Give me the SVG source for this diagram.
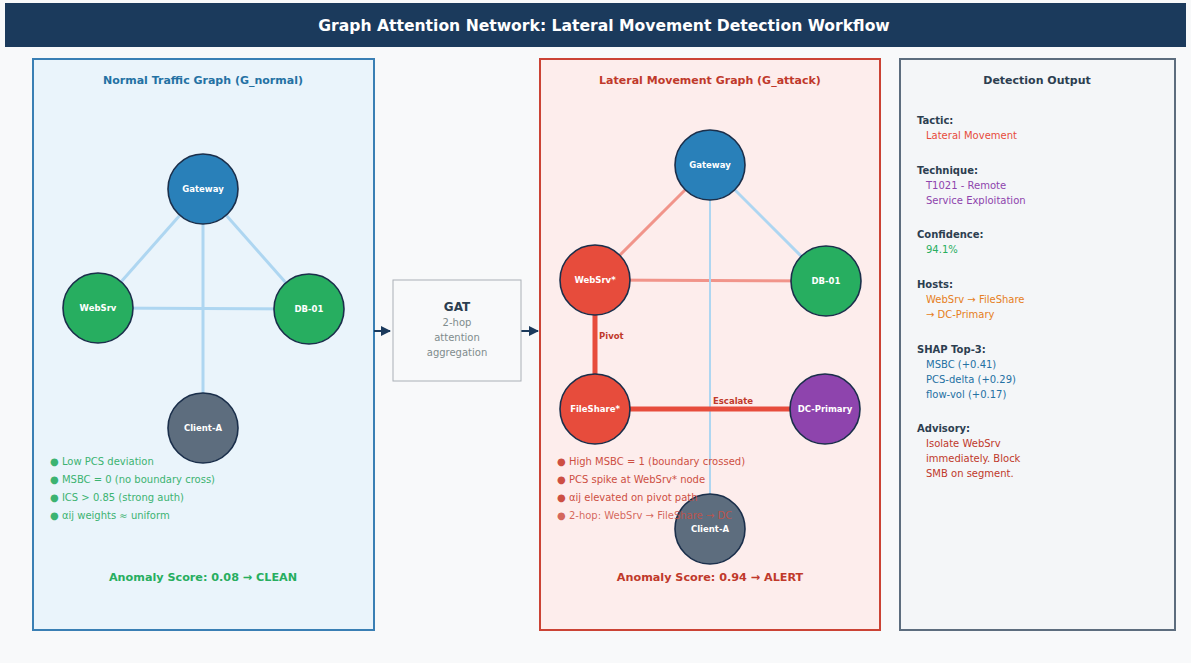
<svg xmlns="http://www.w3.org/2000/svg" width="1191" height="663" viewBox="0 0 1191 663">
<style>
text{font-family:"DejaVu Sans",sans-serif}
.hdr{font-size:15.6px;font-weight:bold;fill:#ffffff}
.ptitle{font-size:11px;font-weight:bold}
.node{stroke:#1b2f4b;stroke-width:1.6}
.nlab{font-size:8.5px;font-weight:bold;fill:#ffffff;text-anchor:middle}
.bul{font-size:10px}
.score{font-size:11.2px;font-weight:bold;text-anchor:middle}
.lbl{font-size:10px;font-weight:bold;fill:#2c3e50}
.val{font-size:10px}
.eblue{stroke:#aed6f1;stroke-width:3;fill:none}
.ered{stroke:#f1948a;stroke-width:3;fill:none}
.ethick{stroke:#e74c3c;stroke-width:5;fill:none}
.elab{font-size:8.5px;font-weight:bold;fill:#c0392b}
.flow{stroke:#1b3a5c;stroke-width:2;fill:none}
</style>
<defs>
<marker id="ah" viewBox="0 0 10 10" refX="9" refY="5" markerWidth="5" markerHeight="5" orient="auto" markerUnits="strokeWidth">
<path d="M0,0 L10,5 L0,10 z" fill="#1b3a5c"/>
</marker>
</defs>
<rect x="0" y="0" width="1191" height="663" fill="#f8f9fa"/>
<g id="header">
<rect x="5" y="3" width="1181" height="44" fill="#1b3a5c"/>
<text class="hdr" x="604" y="31" text-anchor="middle">Graph Attention Network: Lateral Movement Detection Workflow</text>
</g>
<g id="panel-normal">
<rect x="33" y="59" width="341" height="571" fill="#eaf4fb" stroke="#3a7fb4" stroke-width="2"/>
<text class="ptitle" x="203" y="84" text-anchor="middle" fill="#2471a3">Normal Traffic Graph (G_normal)</text>
</g>
<g id="panel-attack">
<rect x="540" y="59" width="340" height="571" fill="#fdedec" stroke="#cb4335" stroke-width="2"/>
<text class="ptitle" x="710" y="84" text-anchor="middle" fill="#c0392b">Lateral Movement Graph (G_attack)</text>
</g>
<g id="panel-output">
<rect x="900" y="59" width="275" height="571" fill="#f4f6f8" stroke="#5d6d7e" stroke-width="2"/>
<text class="ptitle" x="1037" y="84" text-anchor="middle" fill="#2c3e50">Detection Output</text>
</g>
<g id="connectors">
<line class="eblue" x1="203" y1="189" x2="98" y2="308"/>
<line class="eblue" x1="203" y1="189" x2="309" y2="309"/>
<line class="eblue" x1="98" y1="308" x2="309" y2="309"/>
<line class="eblue" x1="203" y1="189" x2="203" y2="428"/>
<line class="ered" x1="710" y1="165" x2="595" y2="280"/>
<line class="eblue" x1="710" y1="165" x2="826" y2="281"/>
<line class="ered" x1="595" y1="280" x2="826" y2="281"/>
<line class="eblue" x1="710" y1="165" x2="710" y2="529" style="stroke-width:2"/>
<line class="ethick" x1="595" y1="280" x2="595" y2="409"/>
<line class="ethick" x1="595" y1="409" x2="825" y2="409"/>
<text class="elab" x="599" y="339">Pivot</text>
<text class="elab" x="713" y="404">Escalate</text>
<line class="flow" x1="374" y1="331" x2="390" y2="331" marker-end="url(#ah)"/>
<line class="flow" x1="521" y1="331" x2="538" y2="331" marker-end="url(#ah)"/>
</g>
<g id="n-gateway"><circle class="node" cx="203" cy="189" r="35" fill="#2980b9"/><text class="nlab" x="203" y="192">Gateway</text></g>
<g id="n-websrv"><circle class="node" cx="98" cy="308" r="35" fill="#27ae60"/><text class="nlab" x="98" y="311">WebSrv</text></g>
<g id="n-db01"><circle class="node" cx="309" cy="309" r="35" fill="#27ae60"/><text class="nlab" x="309" y="312">DB-01</text></g>
<g id="n-clienta"><circle class="node" cx="203" cy="428" r="35" fill="#5d6d7e"/><text class="nlab" x="203" y="431">Client-A</text></g>
<g id="normal-notes" fill="#27ae60">
<text class="bul" x="50" y="465" fill="#3cb371">● Low PCS deviation</text>
<text class="bul" x="50" y="483" fill="#3cb371">● MSBC = 0 (no boundary cross)</text>
<text class="bul" x="50" y="501" fill="#3cb371">● ICS &gt; 0.85 (strong auth)</text>
<text class="bul" x="50" y="519" fill="#3cb371">● αij weights ≈ uniform</text>
<text class="score" x="203" y="581">Anomaly Score: 0.08 → CLEAN</text>
</g>
<g id="gat">
<rect x="393" y="280" width="128" height="101" fill="#f8f9fa" stroke="#aab0b6" stroke-width="1"/>
<text x="457" y="311" text-anchor="middle" font-size="12" font-weight="bold" fill="#2c3e50">GAT</text>
<text x="457" y="326" text-anchor="middle" font-size="10" fill="#7f8c8d">2-hop</text>
<text x="457" y="341" text-anchor="middle" font-size="10" fill="#7f8c8d">attention</text>
<text x="457" y="356" text-anchor="middle" font-size="10" fill="#7f8c8d">aggregation</text>
</g>
<g id="a-gateway"><circle class="node" cx="710" cy="165" r="35" fill="#2980b9"/><text class="nlab" x="710" y="168">Gateway</text></g>
<g id="a-websrv"><circle class="node" cx="595" cy="280" r="35" fill="#e74c3c"/><text class="nlab" x="595" y="283">WebSrv*</text></g>
<g id="a-db01"><circle class="node" cx="826" cy="281" r="35" fill="#27ae60"/><text class="nlab" x="826" y="284">DB-01</text></g>
<g id="a-fileshare"><circle class="node" cx="595" cy="409" r="35" fill="#e74c3c"/><text class="nlab" x="595" y="412">FileShare*</text></g>
<g id="a-dcprimary"><circle class="node" cx="825" cy="409" r="35" fill="#8e44ad"/><text class="nlab" x="825" y="412">DC-Primary</text></g>
<g id="a-clienta"><circle class="node" cx="710" cy="529" r="35" fill="#5d6d7e"/><text class="nlab" x="710" y="532">Client-A</text></g>
<g id="attack-notes" fill="#c0392b">
<text class="bul" x="557" y="465" fill="#cd4f43">● High MSBC = 1 (boundary crossed)</text>
<text class="bul" x="557" y="483" fill="#cd4f43">● PCS spike at WebSrv* node</text>
<text class="bul" x="557" y="501" fill="#cd4f43">● αij elevated on pivot path</text>
<text class="bul" x="557" y="519" fill="#cd4f43" fill-opacity="0.85">● 2-hop: WebSrv → FileShare → DC</text>
<text class="score" x="710" y="581">Anomaly Score: 0.94 → ALERT</text>
</g>
<g id="output-text">
<text class="lbl" x="917" y="124">Tactic:</text>
<text class="val" x="926" y="139" fill="#e74c3c">Lateral Movement</text>
<text class="lbl" x="917" y="174">Technique:</text>
<text class="val" x="926" y="189" fill="#8e44ad">T1021 - Remote</text>
<text class="val" x="926" y="204" fill="#8e44ad">Service Exploitation</text>
<text class="lbl" x="917" y="238">Confidence:</text>
<text class="val" x="926" y="253" fill="#27ae60">94.1%</text>
<text class="lbl" x="917" y="288">Hosts:</text>
<text class="val" x="926" y="303" fill="#e67e22">WebSrv → FileShare</text>
<text class="val" x="926" y="318" fill="#e67e22">→ DC-Primary</text>
<text class="lbl" x="917" y="353">SHAP Top-3:</text>
<text class="val" x="926" y="368" fill="#2471a3">MSBC (+0.41)</text>
<text class="val" x="926" y="383" fill="#2471a3">PCS-delta (+0.29)</text>
<text class="val" x="926" y="398" fill="#2471a3">flow-vol (+0.17)</text>
<text class="lbl" x="917" y="432">Advisory:</text>
<text class="val" x="926" y="447" fill="#c0392b">Isolate WebSrv</text>
<text class="val" x="926" y="462" fill="#c0392b">immediately. Block</text>
<text class="val" x="926" y="477" fill="#c0392b">SMB on segment.</text>
</g>
</svg>
